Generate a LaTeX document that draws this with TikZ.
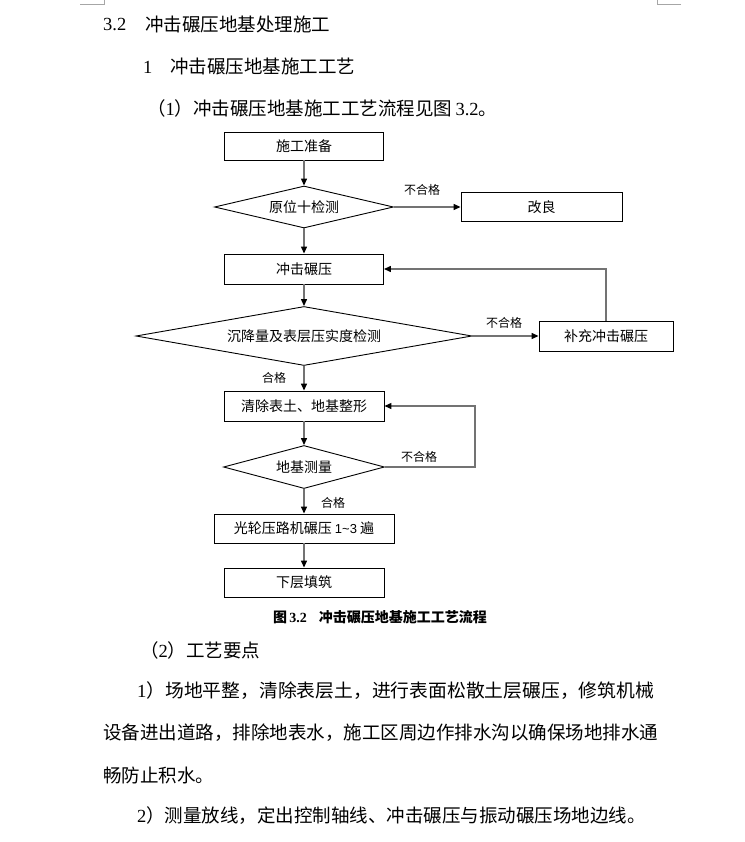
\documentclass[tikz,border=0pt]{standalone}
\usepackage{fontspec}
\setmainfont{Liberation Serif}
\newfontfamily\cjk{Noto Sans CJK SC}
\newfontfamily\lsans{Liberation Sans}
\usetikzlibrary{arrows.meta,shapes.geometric}
\begin{document}
\begin{tikzpicture}[x=1pt,y=-1pt,
  body/.style={anchor=west,inner sep=0pt,font=\fontsize{18.5}{20}\selectfont},
  box/.style={draw=black,line width=0.9pt,minimum height=29pt,inner sep=0pt,
    font=\cjk\fontsize{14}{16}\selectfont},
  dia/.style={draw=black,line width=0.9pt,diamond,inner sep=0pt,
    font=\cjk\fontsize{14}{16}\selectfont},
  lab/.style={inner sep=0pt,font=\cjk\fontsize{12}{14}\selectfont},
  conn/.style={draw=black!55,line width=1.3pt,
    -{Triangle[length=7pt,width=6pt,color=black]}},
  cornermark/.style={draw=black!35,line width=0.8pt}
]
\useasboundingbox (0,0) rectangle (744,842);
\fill[white] (0,0) rectangle (744,842);

% page corner marks
\draw[cornermark] (80,4) -- (104,4) -- (104,0);
\draw[cornermark] (681,4) -- (657,4) -- (657,0);

% headings and text
\node[body] (h1a) at (103,25) {3.2};
\node[body] (h1b) at (145,25) {\cjk 冲击碾压地基处理施工};
\node[body] (h2a) at (143,67) {1};
\node[body] (h2b) at (170,67) {\cjk 冲击碾压地基施工工艺};
\node[body] (p1) at (147,108) {{\cjk （}1{\cjk ）冲击碾压地基施工工艺流程见图}\,3.2{\cjk 。}};

% flowchart
\node[box,minimum width=159pt,minimum height=28pt] (A) at (304,146) {施工准备};
\node[dia,minimum width=179pt,minimum height=42pt,aspect=4.3] (B) at (304,207) {原位十检测};
\node[box,minimum width=161pt] (C) at (541.5,207) {改良};
\node[box,minimum width=159pt,minimum height=30pt] (D) at (304,269) {冲击碾压};
\node[dia,minimum width=336pt,minimum height=59pt,aspect=5.7] (E) at (304,336) {沉降量及表层压实度检测};
\node[box,minimum width=134pt,minimum height=30pt] (F) at (606,336) {补充冲击碾压};
\node[box,minimum width=160pt,minimum height=30pt] (G) at (304,406) {清除表土、地基整形};
\node[dia,minimum width=161pt,minimum height=43pt,aspect=3.75] (H) at (304,467) {地基测量};
\node[box,minimum width=180pt] (I) at (304,528.5) {光轮压路机碾压 {\lsans\fontsize{13}{15}\selectfont 1\textasciitilde 3} 遍};
\node[box,minimum width=160pt] (J) at (304,582.5) {下层填筑};
\coordinate (hk) at (475,467);

\draw[conn] (A) -- (B);
\draw[conn] (B) -- (C);
\draw[conn] (B) -- (D);
\draw[conn] (D) -- (E);
\draw[conn] (E) -- (F);
\draw[conn] (F.north) |- (D.east);
\draw[conn] (E) -- (G);
\draw[conn] (G) -- (H);
\draw[conn] (H.east) -- (hk) |- (G.east);
\draw[conn] (H) -- (I);
\draw[conn] (I) -- (J);

\node[lab] (l1) at (422,190) {不合格};
\node[lab] (l2) at (504,323) {不合格};
\node[lab] (l3) at (274,378) {合格};
\node[lab] (l4) at (419,457) {不合格};
\node[lab] (l5) at (333,503) {合格};

\node[inner sep=0pt,font=\bfseries\fontsize{14}{16}\selectfont] (cap) at (380,617.5)
  {{\cjk 图}\,3.2\hspace{12pt}{\cjk 冲击碾压地基施工工艺流程}};

% text below
\node[body] (p2) at (140,650) {{\cjk （}2{\cjk ）工艺要点}};
\node[body] (p3) at (137,691) {\scalebox{1.016}[1]{1{\cjk ）场地平整，清除表层土，进行表面松散土层碾压，修筑机械}}};
\node[body] (p4) at (103,733) {\cjk 设备进出道路，排除地表水，施工区周边作排水沟以确保场地排水通};
\node[body] (p5) at (103,775) {\cjk 畅防止积水。};
\node[body] (p6) at (137,816) {2{\cjk ）测量放线，定出控制轴线、冲击碾压与振动碾压场地边线。}};
\end{tikzpicture}
\end{document}
